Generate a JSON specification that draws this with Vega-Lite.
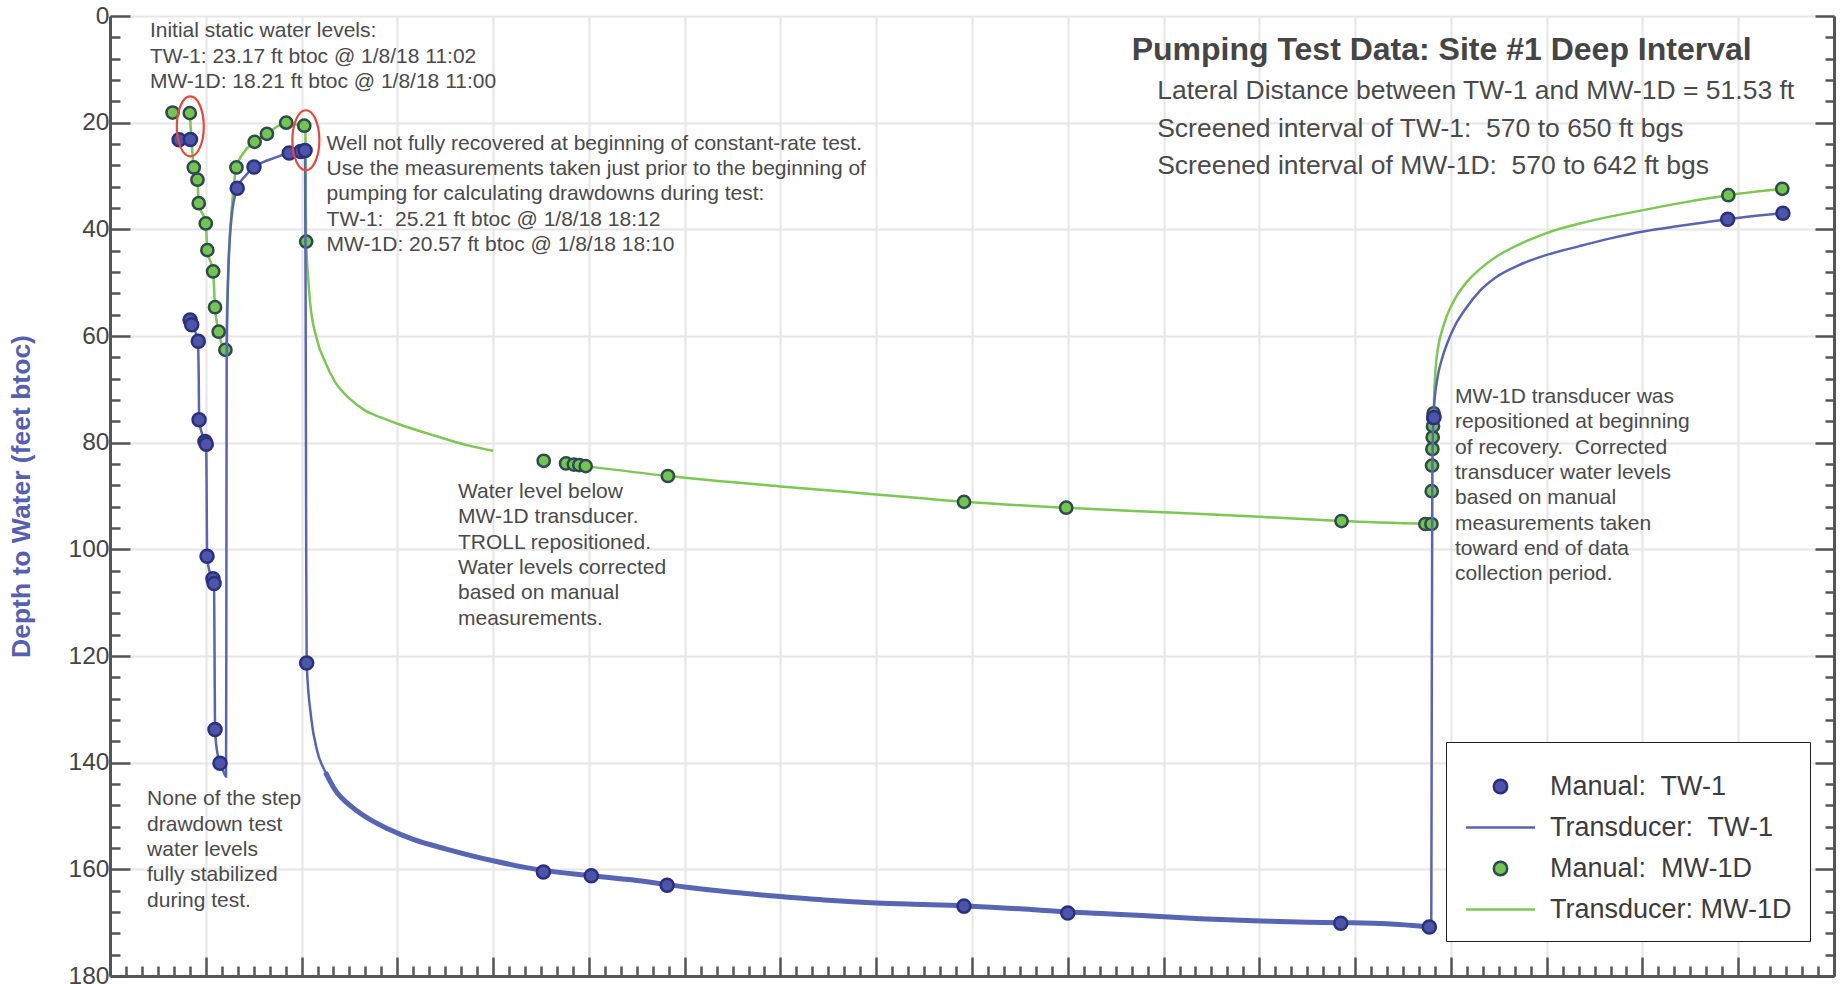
{
  "$schema": "https://vega.github.io/schema/vega-lite/v6.json",
  "width": 1724,
  "height": 960,
  "autosize": {"type": "none"},
  "padding": {"left": 110, "top": 16, "right": 8, "bottom": 8},
  "background": "white",
  "config": {
    "view": {"stroke": null},
    "font": "Liberation Sans",
    "axis": {
      "domainColor": "#555555",
      "domainWidth": 3,
      "tickColor": "#555555",
      "tickWidth": 2.5,
      "gridColor": "#e6e6e6",
      "gridWidth": 2,
      "labelFont": "Liberation Sans",
      "labelFontSize": 24.5,
      "labelColor": "#444444"
    }
  },
  "datasets": {
    "mw_line": [
      {"part": 1, "h": 5.0, "ft": 18.21}, {"part": 1, "h": 5.25, "ft": 28.4}, {"part": 1, "h": 5.48, "ft": 30.7}, {"part": 1, "h": 5.56, "ft": 35.1},
      {"part": 1, "h": 6.0, "ft": 38.9}, {"part": 1, "h": 6.1, "ft": 43.9}, {"part": 1, "h": 6.46, "ft": 47.9}, {"part": 1, "h": 6.58, "ft": 54.6},
      {"part": 1, "h": 6.81, "ft": 59.2}, {"part": 1, "h": 7.23, "ft": 62.6}, {"part": 1, "h": 7.29, "ft": 61.5}, {"part": 1, "h": 7.33, "ft": 55},
      {"part": 1, "h": 7.43, "ft": 45.8}, {"part": 1, "h": 7.62, "ft": 36.4}, {"part": 1, "h": 7.92, "ft": 28.4}, {"part": 1, "h": 8.35, "ft": 25.7},
      {"part": 1, "h": 9.06, "ft": 23.6}, {"part": 1, "h": 9.83, "ft": 22.1}, {"part": 1, "h": 11.04, "ft": 20.0}, {"part": 1, "h": 11.6, "ft": 20.3},
      {"part": 1, "h": 12.17, "ft": 20.57}, {"part": 1, "h": 12.24, "ft": 21.5}, {"part": 1, "h": 12.27, "ft": 35}, {"part": 1, "h": 12.29, "ft": 42.3},
      {"part": 1, "h": 12.4, "ft": 48.5}, {"part": 1, "h": 12.53, "ft": 53.5}, {"part": 1, "h": 12.95, "ft": 60.5}, {"part": 1, "h": 13.5, "ft": 65},
      {"part": 1, "h": 14.08, "ft": 68.5}, {"part": 1, "h": 15.03, "ft": 71.8}, {"part": 1, "h": 16.0, "ft": 74.0}, {"part": 1, "h": 16.91, "ft": 75.2},
      {"part": 1, "h": 18.15, "ft": 76.6}, {"part": 1, "h": 20.35, "ft": 78.7}, {"part": 1, "h": 22.55, "ft": 80.6}, {"part": 1, "h": 24.0, "ft": 81.5},
      {"part": 2, "h": 29.8, "ft": 84.4}, {"part": 2, "h": 34.95, "ft": 86.25}, {"part": 2, "h": 42, "ft": 88.2}, {"part": 2, "h": 48, "ft": 89.7},
      {"part": 2, "h": 53.5, "ft": 91.1}, {"part": 2, "h": 59.9, "ft": 92.2}, {"part": 2, "h": 66, "ft": 93.06}, {"part": 2, "h": 72, "ft": 93.9},
      {"part": 2, "h": 77.15, "ft": 94.7}, {"part": 2, "h": 82.8, "ft": 95.25},
      {"part": 3, "h": 82.92, "ft": 74.5}, {"part": 3, "h": 82.96, "ft": 70.5}, {"part": 3, "h": 83.02, "ft": 67.0}, {"part": 3, "h": 83.11, "ft": 64.0},
      {"part": 3, "h": 83.25, "ft": 61.3}, {"part": 3, "h": 83.45, "ft": 58.9}, {"part": 3, "h": 83.74, "ft": 56.3}, {"part": 3, "h": 84.3, "ft": 52.8},
      {"part": 3, "h": 84.99, "ft": 49.9}, {"part": 3, "h": 85.8, "ft": 47.5}, {"part": 3, "h": 86.87, "ft": 45.1}, {"part": 3, "h": 88.3, "ft": 42.8},
      {"part": 3, "h": 90.0, "ft": 40.7}, {"part": 3, "h": 92.5, "ft": 38.6}, {"part": 3, "h": 96.05, "ft": 36.4}, {"part": 3, "h": 98.7, "ft": 34.9},
      {"part": 3, "h": 101.38, "ft": 33.6}, {"part": 3, "h": 104.76, "ft": 32.4}
    ],
    "tw_line": [
      {"h": 5.02, "ft": 57.0}, {"h": 5.12, "ft": 57.8}, {"h": 5.5, "ft": 60.8}, {"h": 5.56, "ft": 68}, {"h": 5.58, "ft": 75.7},
      {"h": 5.85, "ft": 79.0}, {"h": 6.03, "ft": 80.3}, {"h": 6.06, "ft": 92}, {"h": 6.08, "ft": 101.3}, {"h": 6.3, "ft": 104.8},
      {"h": 6.52, "ft": 106.4}, {"h": 6.55, "ft": 120}, {"h": 6.58, "ft": 133.8}, {"h": 6.75, "ft": 138.6}, {"h": 6.89, "ft": 140.1},
      {"h": 7.1, "ft": 141.6}, {"h": 7.27, "ft": 142.6}, {"h": 7.29, "ft": 110}, {"h": 7.31, "ft": 64.5}, {"h": 7.41, "ft": 48.3},
      {"h": 7.62, "ft": 37.6}, {"h": 7.97, "ft": 32.3}, {"h": 8.5, "ft": 29.9}, {"h": 9.02, "ft": 28.3}, {"h": 9.6, "ft": 27.4},
      {"h": 10.23, "ft": 26.7}, {"h": 11.23, "ft": 25.7}, {"h": 11.95, "ft": 25.4}, {"h": 12.22, "ft": 25.2}, {"h": 12.26, "ft": 60},
      {"h": 12.29, "ft": 100}, {"h": 12.32, "ft": 121.3}, {"h": 12.6, "ft": 131.5}, {"h": 12.98, "ft": 137.8}, {"h": 13.5, "ft": 141.8},
      {"h": 14.08, "ft": 145.0}, {"h": 15.19, "ft": 148.4}, {"h": 16.3, "ft": 150.7}, {"h": 17.4, "ft": 152.4}, {"h": 19.0, "ft": 154.4},
      {"h": 21.07, "ft": 156.2}, {"h": 24.0, "ft": 158.4}, {"h": 27.15, "ft": 160.2},
      {"h": 30.15, "ft": 161.2}, {"h": 33, "ft": 162.1}, {"h": 36, "ft": 163.3}, {"h": 39, "ft": 164.3}, {"h": 42, "ft": 165.1},
      {"h": 45, "ft": 165.8}, {"h": 48, "ft": 166.3}, {"h": 51, "ft": 166.6}, {"h": 54, "ft": 166.9}, {"h": 57, "ft": 167.4},
      {"h": 60, "ft": 168.0}, {"h": 63, "ft": 168.4}, {"h": 66, "ft": 168.9}, {"h": 68.3, "ft": 169.25}, {"h": 72.1, "ft": 169.7},
      {"h": 75, "ft": 169.9}, {"h": 77.1, "ft": 170.0}, {"h": 80, "ft": 170.2}, {"h": 82.65, "ft": 170.8}, {"h": 82.77, "ft": 170.8},
      {"h": 82.8, "ft": 130}, {"h": 82.84, "ft": 85}, {"h": 82.9, "ft": 76}, {"h": 82.95, "ft": 73}, {"h": 83.05, "ft": 70},
      {"h": 83.21, "ft": 67.0}, {"h": 83.45, "ft": 64.2}, {"h": 83.74, "ft": 61.6}, {"h": 84.3, "ft": 57.8}, {"h": 84.99, "ft": 54.6}, {"h": 85.8, "ft": 51.6},
      {"h": 86.87, "ft": 48.9}, {"h": 88.2, "ft": 46.8}, {"h": 90.0, "ft": 44.8}, {"h": 92, "ft": 43.2}, {"h": 94, "ft": 41.7},
      {"h": 96.05, "ft": 40.4}, {"h": 98.5, "ft": 39.3}, {"h": 101.34, "ft": 38.1}, {"h": 104.8, "ft": 37.0}
    ],
    "mw_pts": [
      {"h": 3.92, "ft": 18.1}, {"h": 5.0, "ft": 18.21}, {"h": 5.25, "ft": 28.4}, {"h": 5.48, "ft": 30.7}, {"h": 5.56, "ft": 35.1},
      {"h": 6.0, "ft": 38.9}, {"h": 6.1, "ft": 43.9}, {"h": 6.46, "ft": 47.9}, {"h": 6.58, "ft": 54.6}, {"h": 6.81, "ft": 59.2},
      {"h": 7.23, "ft": 62.6}, {"h": 7.92, "ft": 28.4}, {"h": 9.06, "ft": 23.6}, {"h": 9.83, "ft": 22.1}, {"h": 11.04, "ft": 20.0},
      {"h": 12.17, "ft": 20.57}, {"h": 12.29, "ft": 42.3},
      {"h": 27.17, "ft": 83.4}, {"h": 28.57, "ft": 83.9}, {"h": 29.06, "ft": 84.1}, {"h": 29.4, "ft": 84.2}, {"h": 29.8, "ft": 84.4},
      {"h": 34.95, "ft": 86.25}, {"h": 53.5, "ft": 91.1}, {"h": 59.9, "ft": 92.2}, {"h": 77.15, "ft": 94.7}, {"h": 82.4, "ft": 95.25},
      {"h": 82.78, "ft": 95.25}, {"h": 82.8, "ft": 89.1}, {"h": 82.82, "ft": 84.3}, {"h": 82.84, "ft": 81.2}, {"h": 82.86, "ft": 79.0},
      {"h": 82.88, "ft": 76.9}, {"h": 82.9, "ft": 75.4}, {"h": 82.92, "ft": 74.5},
      {"h": 101.38, "ft": 33.6}, {"h": 104.76, "ft": 32.4}
    ],
    "tw_pts": [
      {"series": "Manual:\u00a0 TW-1", "h": 4.33, "ft": 23.2}, {"series": "Manual:\u00a0 TW-1", "h": 5.04, "ft": 23.17},
      {"series": "Manual:\u00a0 TW-1", "h": 5.02, "ft": 57.0}, {"series": "Manual:\u00a0 TW-1", "h": 5.12, "ft": 57.9},
      {"series": "Manual:\u00a0 TW-1", "h": 5.53, "ft": 61.0}, {"series": "Manual:\u00a0 TW-1", "h": 5.58, "ft": 75.7},
      {"series": "Manual:\u00a0 TW-1", "h": 5.95, "ft": 79.8}, {"series": "Manual:\u00a0 TW-1", "h": 6.03, "ft": 80.3},
      {"series": "Manual:\u00a0 TW-1", "h": 6.08, "ft": 101.3}, {"series": "Manual:\u00a0 TW-1", "h": 6.45, "ft": 105.5},
      {"series": "Manual:\u00a0 TW-1", "h": 6.52, "ft": 106.4}, {"series": "Manual:\u00a0 TW-1", "h": 6.58, "ft": 133.8},
      {"series": "Manual:\u00a0 TW-1", "h": 6.89, "ft": 140.1}, {"series": "Manual:\u00a0 TW-1", "h": 7.97, "ft": 32.3},
      {"series": "Manual:\u00a0 TW-1", "h": 9.02, "ft": 28.3}, {"series": "Manual:\u00a0 TW-1", "h": 11.23, "ft": 25.7},
      {"series": "Manual:\u00a0 TW-1", "h": 11.95, "ft": 25.4}, {"series": "Manual:\u00a0 TW-1", "h": 12.22, "ft": 25.21},
      {"series": "Manual:\u00a0 TW-1", "h": 12.32, "ft": 121.3}, {"series": "Manual:\u00a0 TW-1", "h": 27.15, "ft": 160.5},
      {"series": "Manual:\u00a0 TW-1", "h": 30.15, "ft": 161.2}, {"series": "Manual:\u00a0 TW-1", "h": 34.9, "ft": 163.0},
      {"series": "Manual:\u00a0 TW-1", "h": 53.5, "ft": 166.9}, {"series": "Manual:\u00a0 TW-1", "h": 60.0, "ft": 168.2},
      {"series": "Manual:\u00a0 TW-1", "h": 77.1, "ft": 170.1}, {"series": "Manual:\u00a0 TW-1", "h": 82.65, "ft": 170.8},
      {"series": "Manual:\u00a0 TW-1", "h": 82.94, "ft": 75.3}, {"series": "Manual:\u00a0 TW-1", "h": 101.34, "ft": 38.1},
      {"series": "Manual:\u00a0 TW-1", "h": 104.8, "ft": 37.0}
    ],
    "ellipses": [{"h": 5.03, "ft": 20.7}, {"h": 12.27, "ft": 23.3}]
  },
  "resolve": {"axis": {"x": "independent", "y": "independent"}},
  "layer": [
    {
      "data": {"name": "mw_line"},
      "mark": {"type": "line", "color": "#7cc853", "strokeWidth": 2.5, "interpolate": "monotone"},
      "encoding": {
        "x": {"field": "h", "type": "quantitative", "scale": {"domain": [0, 108], "nice": false, "zero": false},
          "axis": {"orient": "bottom", "values": [0, 6, 12, 18, 24, 30, 36, 42, 48, 54, 60, 66, 72, 78, 84, 90, 96, 102, 108], "grid": true, "labels": false, "tickSize": -19, "title": null, "domain": true}},
        "y": {"field": "ft", "type": "quantitative", "scale": {"domain": [0, 180], "reverse": true, "nice": false, "zero": false},
          "axis": {"orient": "left", "values": [0, 20, 40, 60, 80, 100, 120, 140, 160, 180], "grid": true, "tickSize": -20, "labelPadding": 21,
            "title": "Depth to Water (feet btoc)", "titleFont": "Liberation Sans", "titleFontSize": 26.5, "titleFontWeight": "bold", "titleColor": "#5560b0",
            "titleX": -89, "titleY": 480, "titleAngle": -90, "titleAlign": "center", "titleBaseline": "middle", "domain": true}},
        "detail": {"field": "part", "type": "nominal"},
        "order": {"value": null}
      }
    },
    {
      "data": {"name": "mw_pts"},
      "mark": {"type": "point", "filled": true, "fill": "#74c450", "stroke": "#2d4b4f", "strokeWidth": 2.5, "size": 150, "opacity": 1},
      "encoding": {
        "x": {"field": "h", "type": "quantitative", "scale": {"domain": [0, 108], "nice": false, "zero": false},
          "axis": {"orient": "bottom", "values": [1,2,3,4,5,7,8,9,10,11,13,14,15,16,17,19,20,21,22,23,25,26,27,28,29,31,32,33,34,35,37,38,39,40,41,43,44,45,46,47,49,50,51,52,53,55,56,57,58,59,61,62,63,64,65,67,68,69,70,71,73,74,75,76,77,79,80,81,82,83,85,86,87,88,89,91,92,93,94,95,97,98,99,100,101,103,104,105,106,107], "grid": false, "labels": false, "tickSize": -10, "title": null, "domain": false}},
        "y": {"field": "ft", "type": "quantitative", "scale": {"domain": [0, 180], "reverse": true, "nice": false, "zero": false},
          "axis": {"orient": "left", "values": [4,8,12,16,24,28,32,36,44,48,52,56,64,68,72,76,84,88,92,96,104,108,112,116,124,128,132,136,144,148,152,156,164,168,172,176], "grid": false, "labels": false, "tickSize": -10, "title": null, "domain": false}}
      }
    },
    {
      "data": {"name": "tw_line"},
      "mark": {"type": "line", "color": "#5864b4", "strokeWidth": 2.5, "interpolate": "monotone"},
      "encoding": {
        "x": {"field": "h", "type": "quantitative", "scale": {"domain": [0, 108], "nice": false, "zero": false}, "axis": null},
        "y": {"field": "ft", "type": "quantitative", "scale": {"domain": [0, 180], "reverse": true, "nice": false, "zero": false},
          "axis": {"orient": "right", "values": [0, 20, 40, 60, 80, 100, 120, 140, 160, 180], "grid": false, "labels": false, "tickSize": -19, "title": null, "domain": true}},
        "order": {"value": null}
      }
    },
    {
      "data": {"name": "tw_line"},
      "transform": [{"filter": "datum.h >= 13.4 && datum.h <= 82.7"}],
      "mark": {"type": "line", "color": "#5864b4", "strokeWidth": 5, "interpolate": "monotone"},
      "encoding": {
        "x": {"field": "h", "type": "quantitative", "scale": {"domain": [0, 108], "nice": false, "zero": false}, "axis": null},
        "y": {"field": "ft", "type": "quantitative", "scale": {"domain": [0, 180], "reverse": true, "nice": false, "zero": false},
          "axis": {"orient": "right", "values": [4,8,12,16,24,28,32,36,44,48,52,56,64,68,72,76,84,88,92,96,104,108,112,116,124,128,132,136,144,148,152,156,164,168,172,176], "grid": false, "labels": false, "tickSize": -9, "title": null, "domain": false}},
        "order": {"value": null}
      }
    },
    {
      "data": {"name": "tw_pts"},
      "mark": {"type": "point", "filled": true, "strokeWidth": 2.5, "size": 170, "opacity": 1},
      "encoding": {
        "x": {"field": "h", "type": "quantitative", "scale": {"domain": [0, 108], "nice": false, "zero": false}, "axis": null},
        "y": {"field": "ft", "type": "quantitative", "scale": {"domain": [0, 180], "reverse": true, "nice": false, "zero": false}, "axis": null},
        "color": {"field": "series", "type": "nominal",
          "scale": {"domain": ["Manual:\u00a0 TW-1", "Transducer:\u00a0 TW-1", "Manual:\u00a0 MW-1D", "Transducer: MW-1D"], "range": ["#4c55a8", "#5864b4", "#74c450", "#7cc853"]},
          "legend": {"orient": "none", "legendX": 1336, "legendY": 726, "direction": "vertical", "title": " ", "titleFontSize": 10, "titlePadding": 3,
            "padding": 18, "strokeColor": "#1f1f1f", "fillColor": "#ffffff", "labelFont": "Liberation Sans", "labelFontSize": 27, "labelColor": "#3c3c3c",
            "labelOffset": 36, "labelLimit": 400, "rowPadding": 13, "symbolSize": 180, "symbolStrokeWidth": 2.5, "symbolOffset": 23}},
        "stroke": {"field": "series", "type": "nominal",
          "scale": {"domain": ["Manual:\u00a0 TW-1", "Transducer:\u00a0 TW-1", "Manual:\u00a0 MW-1D", "Transducer: MW-1D"], "range": ["#2a3080", "#5864b4", "#2d4b4f", "#7cc853"]},
          "legend": {"orient": "none", "legendX": 1336, "legendY": 726, "direction": "vertical", "title": " ", "titleFontSize": 10, "titlePadding": 3,
            "padding": 18, "strokeColor": "#1f1f1f", "fillColor": "#ffffff", "labelFont": "Liberation Sans", "labelFontSize": 27, "labelColor": "#3c3c3c",
            "labelOffset": 36, "labelLimit": 400, "rowPadding": 13, "symbolSize": 180, "symbolStrokeWidth": 2.5, "symbolOffset": 23}},
        "shape": {"field": "series", "type": "nominal",
          "scale": {"domain": ["Manual:\u00a0 TW-1", "Transducer:\u00a0 TW-1", "Manual:\u00a0 MW-1D", "Transducer: MW-1D"], "range": ["circle", "M -5.15 0 L 5.15 0", "circle", "M -5.15 0 L 5.15 0"]},
          "legend": {"orient": "none", "legendX": 1336, "legendY": 726, "direction": "vertical", "title": " ", "titleFontSize": 10, "titlePadding": 3,
            "padding": 18, "strokeColor": "#1f1f1f", "fillColor": "#ffffff", "labelFont": "Liberation Sans", "labelFontSize": 27, "labelColor": "#3c3c3c",
            "labelOffset": 36, "labelLimit": 400, "rowPadding": 13, "symbolSize": 180, "symbolStrokeWidth": 2.5, "symbolOffset": 23}}
      }
    },
    {
      "data": {"name": "ellipses"},
      "mark": {"type": "point", "filled": false, "stroke": "#e8473b", "strokeWidth": 2.2, "size": 3600, "opacity": 1,
        "shape": "M 0 -1 C 0.2485 -1 0.45 -0.5523 0.45 0 C 0.45 0.5523 0.2485 1 0 1 C -0.2485 1 -0.45 0.5523 -0.45 0 C -0.45 -0.5523 -0.2485 -1 0 -1 Z"},
      "encoding": {
        "x": {"field": "h", "type": "quantitative", "scale": {"domain": [0, 108], "nice": false, "zero": false}, "axis": null},
        "y": {"field": "ft", "type": "quantitative", "scale": {"domain": [0, 180], "reverse": true, "nice": false, "zero": false}, "axis": null}
      }
    },
    {
      "data": {"values": [
        {"h": 2.5, "ft": 4.0, "lines": ["Initial static water levels:", "TW-1: 23.17 ft btoc @ 1/8/18 11:02", "MW-1D: 18.21 ft btoc @ 1/8/18 11:00"]},
        {"h": 13.57, "ft": 25.1, "lines": ["Well not fully recovered at beginning of constant-rate test.", "Use the measurements taken just prior to the beginning of", "pumping for calculating drawdowns during test:", "TW-1:\u00a0 25.21 ft btoc @ 1/8/18 18:12", "MW-1D: 20.57 ft btoc @ 1/8/18 18:10"]},
        {"h": 2.32, "ft": 148.0, "lines": ["None of the step", "drawdown test", "water levels", "fully stabilized", "during test."]},
        {"h": 21.8, "ft": 90.4, "lines": ["Water level below", "MW-1D transducer.", "TROLL repositioned.", "Water levels corrected", "based on manual", "measurements."]},
        {"h": 84.26, "ft": 72.6, "lines": ["MW-1D transducer was", "repositioned at beginning", "of recovery.\u00a0 Corrected", "transducer water levels", "based on manual", "measurements taken", "toward end of data", "collection period."]}
      ]},
      "mark": {"type": "text", "align": "left", "baseline": "alphabetic", "font": "Liberation Sans", "fontSize": 21, "lineHeight": 25.3, "lineBreak": "\n", "color": "#4a4a4a"},
      "encoding": {
        "x": {"field": "h", "type": "quantitative", "scale": {"domain": [0, 108], "nice": false, "zero": false}, "axis": null},
        "y": {"field": "ft", "type": "quantitative", "scale": {"domain": [0, 180], "reverse": true, "nice": false, "zero": false}, "axis": null},
        "text": {"field": "lines", "type": "nominal"}
      }
    },
    {
      "data": {"values": [{"h": 64.0, "ft": 8.25, "label": "Pumping Test Data: Site #1 Deep Interval"}]},
      "mark": {"type": "text", "align": "left", "baseline": "alphabetic", "font": "Liberation Sans", "fontSize": 32, "fontWeight": "bold", "color": "#454545"},
      "encoding": {
        "x": {"field": "h", "type": "quantitative", "scale": {"domain": [0, 108], "nice": false, "zero": false}, "axis": null},
        "y": {"field": "ft", "type": "quantitative", "scale": {"domain": [0, 180], "reverse": true, "nice": false, "zero": false}, "axis": null},
        "text": {"field": "label", "type": "nominal"}
      }
    },
    {
      "data": {"values": [{"h": 65.6, "ft": 15.65, "lines": ["Lateral Distance between TW-1 and MW-1D = 51.53 ft", "Screened interval of TW-1:\u00a0 570 to 650 ft bgs", "Screened interval of MW-1D:\u00a0 570 to 642 ft bgs"]}]},
      "mark": {"type": "text", "align": "left", "baseline": "alphabetic", "font": "Liberation Sans", "fontSize": 26.5, "lineHeight": 37.5, "lineBreak": "\n", "color": "#4a4a4a"},
      "encoding": {
        "x": {"field": "h", "type": "quantitative", "scale": {"domain": [0, 108], "nice": false, "zero": false}, "axis": null},
        "y": {"field": "ft", "type": "quantitative", "scale": {"domain": [0, 180], "reverse": true, "nice": false, "zero": false}, "axis": null},
        "text": {"field": "lines", "type": "nominal"}
      }
    }
  ]
}
